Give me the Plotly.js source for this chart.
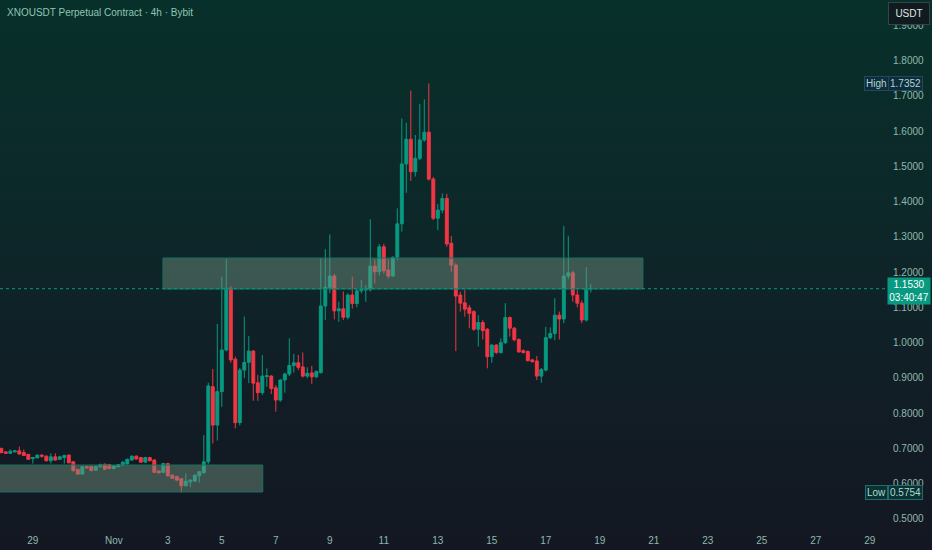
<!DOCTYPE html>
<html><head><meta charset="utf-8">
<script src="https://cdn.plot.ly/plotly-3.0.1.min.js"></script>
<style>
html,body{margin:0;padding:0;width:932px;height:550px;overflow:hidden;}
body{background:linear-gradient(to bottom,#08302a 0%,#0d2729 42%,#111d25 72%,#131722 100%);}
#chart{width:932px;height:550px;}
</style></head><body><div id="chart"></div>
<script>
// 4h candles, first candle opens 2024-10-27 20:00
const firstCandle = Date.UTC(2024, 9, 27, 20);
const candleHours = 4;

const open = [0.700,0.690,0.686,0.690,0.693,0.688,0.683,0.671,0.673,0.681,
0.678,0.665,0.676,0.669,0.674,0.681,0.662,0.640,0.627,0.648,
0.648,0.638,0.648,0.655,0.654,0.643,0.648,0.653,0.656,0.667,
0.678,0.674,0.661,0.674,0.667,0.636,0.632,0.657,0.624,0.620,
0.614,0.594,0.605,0.607,0.622,0.631,0.662,0.875,0.766,0.861,
0.979,1.154,0.953,0.773,0.922,0.944,0.976,0.886,0.858,0.904,
0.905,0.872,0.837,0.894,0.911,0.935,0.943,0.931,0.905,0.914,
0.903,0.915,1.104,1.157,1.189,1.090,1.096,1.072,1.135,1.111,
1.147,1.149,1.150,1.217,1.201,1.272,1.206,1.189,1.242,1.337,
1.507,1.577,1.485,1.523,1.575,1.597,1.464,1.353,1.376,1.409,
1.282,1.220,1.135,1.113,1.099,1.088,1.038,1.057,1.038,0.960,
0.993,0.972,1.000,1.071,1.041,1.009,0.977,0.975,0.951,0.948,
0.905,0.922,1.014,1.026,1.078,1.067,1.189,1.198,1.135,1.112,
1.064,1.152];
const high = [0.702,0.692,0.697,0.695,0.705,0.697,0.684,0.676,0.682,0.683,
0.680,0.686,0.686,0.679,0.682,0.682,0.664,0.642,0.650,0.650,
0.650,0.650,0.657,0.657,0.656,0.651,0.656,0.663,0.671,0.680,
0.680,0.676,0.676,0.676,0.669,0.638,0.659,0.659,0.626,0.622,
0.616,0.629,0.612,0.626,0.636,0.738,0.886,0.925,1.053,1.187,
1.237,1.160,0.960,0.928,1.074,1.019,0.979,0.908,0.965,0.927,
0.908,0.880,0.897,0.915,1.012,0.968,0.965,0.972,0.930,0.934,
0.921,1.239,1.265,1.307,1.195,1.116,1.145,1.140,1.187,1.152,
1.178,1.163,1.350,1.236,1.280,1.280,1.236,1.245,1.381,1.636,
1.624,1.715,1.589,1.677,1.690,1.7352,1.470,1.393,1.423,1.422,
1.302,1.225,1.145,1.149,1.107,1.092,1.078,1.064,1.041,0.996,
0.996,1.012,1.112,1.074,1.044,1.012,0.981,0.978,0.954,0.962,
0.928,1.045,1.043,1.126,1.088,1.331,1.303,1.204,1.149,1.120,
1.214,1.166];
const low = [0.686,0.684,0.685,0.689,0.683,0.679,0.667,0.657,0.672,0.673,
0.663,0.657,0.665,0.667,0.657,0.658,0.634,0.625,0.626,0.643,
0.635,0.636,0.646,0.639,0.641,0.641,0.646,0.651,0.654,0.665,
0.668,0.659,0.659,0.663,0.630,0.628,0.630,0.620,0.613,0.607,
0.5754,0.592,0.590,0.605,0.603,0.628,0.655,0.714,0.722,0.818,
0.975,0.943,0.757,0.765,0.899,0.885,0.835,0.835,0.852,0.875,
0.854,0.804,0.832,0.858,0.905,0.915,0.922,0.901,0.899,0.883,
0.899,0.912,1.064,1.140,1.066,1.059,1.064,1.066,1.097,1.100,
1.140,1.116,1.145,1.168,1.190,1.196,1.182,1.186,1.234,1.315,
1.425,1.459,1.471,1.518,1.570,1.460,1.348,1.319,1.367,1.272,
1.201,0.976,1.088,1.074,1.041,1.033,0.989,1.009,0.927,0.943,
0.968,0.969,0.996,1.017,1.004,0.971,0.969,0.946,0.943,0.894,
0.886,0.918,1.010,1.007,1.009,1.055,1.180,1.116,1.100,1.055,
1.060,1.142];
const close = [0.688,0.686,0.692,0.693,0.684,0.680,0.669,0.674,0.681,0.678,
0.665,0.676,0.667,0.676,0.680,0.659,0.637,0.627,0.648,0.645,
0.637,0.648,0.654,0.641,0.643,0.650,0.654,0.661,0.669,0.678,
0.670,0.661,0.674,0.665,0.632,0.631,0.657,0.622,0.615,0.610,
0.594,0.607,0.610,0.624,0.634,0.662,0.877,0.766,0.861,0.979,
1.154,0.951,0.773,0.922,0.944,0.976,0.885,0.858,0.905,0.906,
0.870,0.837,0.894,0.911,0.935,0.943,0.930,0.905,0.913,0.903,
0.918,1.104,1.157,1.189,1.090,1.096,1.072,1.135,1.111,1.147,
1.151,1.152,1.217,1.201,1.272,1.204,1.189,1.242,1.337,1.507,
1.577,1.485,1.523,1.575,1.597,1.464,1.353,1.376,1.409,1.280,
1.220,1.132,1.112,1.095,1.083,1.038,1.057,1.034,0.960,0.993,
0.972,1.000,1.071,1.041,1.008,0.974,0.972,0.949,0.946,0.905,
0.924,1.014,1.026,1.078,1.067,1.189,1.198,1.135,1.112,1.064,
1.152,1.153];

const xTickVals = ['2024-10-29','2024-11-01','2024-11-03','2024-11-05','2024-11-07','2024-11-09','2024-11-11','2024-11-13','2024-11-15','2024-11-17','2024-11-19','2024-11-21','2024-11-23','2024-11-25','2024-11-27','2024-11-29'];
const xTickText = ['29','Nov','3','5','7','9','11','13','15','17','19','21','23','25','27','29'];
const yTickVals = [0.5,0.6,0.7,0.8,0.9,1.0,1.1,1.2,1.3,1.4,1.5,1.6,1.7,1.8,1.9];
const yTickText = ['0.5000','0.6000','0.7000','0.8000','0.9000','1.0000','1.1000','1.2000','1.3000','1.4000','1.5000','1.6000','1.7000','1.8000','1.9000'];

const upperZone = {from:'2024-11-02 19:40', to:'2024-11-20 14:20', bottom:1.152, top:1.240};
const lowerZone = {from:'2024-10-27 00:00', to:'2024-11-06 12:25', bottom:0.5763, top:0.6528};
const lastPrice = 1.153;
const lastPriceText = '1.1530';
const countdown = '03:40:47';
const highValue = 1.7352, lowValue = 0.5754;

const times = open.map((_, i) => new Date(firstCandle + i*candleHours*3600*1000).toISOString().slice(0,16).replace('T',' '));

const trace = {
  type:'candlestick', x:times, open:open, high:high, low:low, close:close,
  increasing:{line:{color:'#089981',width:1}, fillcolor:'#089981'},
  decreasing:{line:{color:'#f23645',width:1}, fillcolor:'#f23645'},
  whiskerwidth:0, hoverinfo:'skip'
};

const lblFont = 'Liberation Sans Narrow, Liberation Sans, Arial, sans-serif';
const zoneFill = 'rgba(118,150,130,0.45)';
const zoneLine = '#16735f';
const layout = {
  width:932, height:550,
  margin:{l:0,r:45,t:0,b:24,pad:0},
  paper_bgcolor:'rgba(0,0,0,0)', plot_bgcolor:'rgba(0,0,0,0)',
  showlegend:false, boxgap:0.35, boxgroupgap:0,
  font:{family:lblFont, size:10, color:'#8fb8ad'},
  xaxis:{type:'date', range:['2024-10-27 18:50','2024-11-29 15:17'], rangeslider:{visible:false},
    showgrid:false, zeroline:false, showline:false, ticks:'', tickvals:xTickVals, ticktext:xTickText,
    ticklabelstandoff:7, tickfont:{family:lblFont,size:10,color:'#8fb8ad'}, fixedrange:true},
  yaxis:{side:'right', range:[0.4798,1.972], showgrid:false, zeroline:false, showline:false, ticks:'',
    tickvals:yTickVals, ticktext:yTickText, ticklabelstandoff:5,
    tickfont:{family:lblFont,size:10,color:'#8fb8ad'}, fixedrange:true},
  shapes:[
    {type:'rect', xref:'x', yref:'y', x0:upperZone.from, x1:upperZone.to, y0:upperZone.bottom, y1:upperZone.top,
     fillcolor:zoneFill, line:{color:zoneLine,width:1}, layer:'above'},
    {type:'rect', xref:'x', yref:'y', x0:lowerZone.from, x1:lowerZone.to, y0:lowerZone.bottom, y1:lowerZone.top,
     fillcolor:zoneFill, line:{color:zoneLine,width:1}, layer:'above'},
    {type:'line', xref:'paper', yref:'y', x0:0, x1:1, y0:lastPrice, y1:lastPrice,
     line:{color:'#089981',width:1,dash:'dot'}, layer:'above'}
  ],
  annotations:[
    {text:'XNOUSDT Perpetual Contract · 4h · Bybit', xref:'paper', yref:'paper', x:0.0056, y:0.9753,
     xanchor:'left', yanchor:'middle', showarrow:false, font:{family:lblFont,size:10,color:'#8ec6b4'}},
    {text:'USDT', xref:'paper', yref:'paper', x:1.0248, y:0.9743, xanchor:'center', yanchor:'middle',
     showarrow:false, width:38, height:19, bgcolor:'#0f1b1e', bordercolor:'#36444a', borderwidth:1,
     font:{family:'Liberation Sans, Arial, sans-serif',size:10,color:'#e0e6e6'}},
    {text:'High', xref:'paper', yref:'y', x:0.9876, y:highValue, xanchor:'center', yanchor:'middle', showarrow:false,
     bgcolor:'#0f2b3c', bordercolor:'#1c4a60', borderwidth:1, borderpad:1, font:{family:lblFont,size:10,color:'#a8d8cc'}},
    {text:highValue.toFixed(4), xref:'paper', yref:'y', x:1.0203, y:highValue, xanchor:'center', yanchor:'middle', showarrow:false,
     bgcolor:'#0f2b3c', bordercolor:'#1c4a60', borderwidth:1, borderpad:1, font:{family:lblFont,size:10,color:'#a8d8cc'}},
    {text:'Low', xref:'paper', yref:'y', x:0.9887, y:lowValue, xanchor:'center', yanchor:'middle', showarrow:false,
     bgcolor:'#0c3034', bordercolor:'#1f6e6c', borderwidth:1, borderpad:1, font:{family:lblFont,size:10,color:'#a6dccf'}},
    {text:lowValue.toFixed(4), xref:'paper', yref:'y', x:1.0206, y:lowValue, xanchor:'center', yanchor:'middle', showarrow:false,
     bgcolor:'#0c3034', bordercolor:'#1f6e6c', borderwidth:1, borderpad:1, font:{family:lblFont,size:10,color:'#a6dccf'}},
    {text:lastPriceText+'<br>'+countdown, xref:'paper', yref:'y', x:1.0248, y:lastPrice, xanchor:'center', yanchor:'middle',
     yshift:-2, showarrow:false, width:40, bgcolor:'#089981', borderpad:1,
     font:{family:lblFont,size:10,color:'#ffffff'}}
  ]
};

Plotly.newPlot('chart', [trace], layout, {displayModeBar:false, staticPlot:true});
</script></body></html>
